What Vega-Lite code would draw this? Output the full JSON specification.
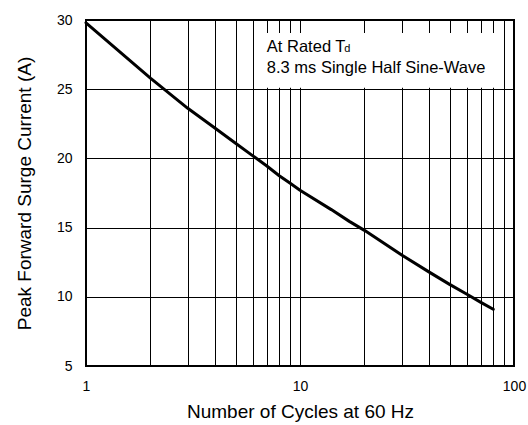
{
  "$schema": "https://vega.github.io/schema/vega-lite/v6.json",
  "width": 428,
  "height": 346,
  "autosize": {"type": "none"},
  "padding": {"left": 86, "top": 20, "right": 14, "bottom": 59},
  "background": "white",
  "config": {
    "font": "Liberation Sans",
    "view": {"stroke": "#000", "strokeWidth": 2},
    "axis": {
      "grid": true,
      "gridColor": "#000",
      "gridOpacity": 1,
      "gridWidth": 1,
      "ticks": false,
      "tickSize": 0,
      "domain": false,
      "labelColor": "#000",
      "titleColor": "#000",
      "labelFontSize": 14,
      "titleFontSize": 19,
      "titleFontWeight": "normal",
      "labelFont": "Liberation Sans",
      "titleFont": "Liberation Sans"
    }
  },
  "data": {
    "values": [
      {"cycles": 1, "current": 29.8},
      {"cycles": 2, "current": 25.8},
      {"cycles": 3, "current": 23.6},
      {"cycles": 4, "current": 22.2},
      {"cycles": 5, "current": 21.1},
      {"cycles": 6, "current": 20.2},
      {"cycles": 7, "current": 19.45},
      {"cycles": 8, "current": 18.75},
      {"cycles": 9, "current": 18.2},
      {"cycles": 10, "current": 17.7},
      {"cycles": 14, "current": 16.3},
      {"cycles": 17, "current": 15.45},
      {"cycles": 20, "current": 14.8},
      {"cycles": 30, "current": 13.0},
      {"cycles": 40, "current": 11.8},
      {"cycles": 50, "current": 10.9},
      {"cycles": 60, "current": 10.2},
      {"cycles": 70, "current": 9.6},
      {"cycles": 80, "current": 9.1}
    ]
  },
  "layer": [
    {
      "mark": {"type": "line", "color": "#000", "strokeWidth": 3, "strokeCap": "round", "strokeJoin": "round"},
      "encoding": {
        "x": {
          "field": "cycles",
          "type": "quantitative",
          "scale": {"type": "log", "domain": [1, 100], "nice": false},
          "axis": {
            "values": [1, 2, 3, 4, 5, 6, 7, 8, 9, 10, 20, 30, 40, 50, 60, 70, 80, 90, 100],
            "labelExpr": "datum.value == 1 || datum.value == 10 || datum.value == 100 ? format(datum.value, 'd') : ''",
            "labelOverlap": false,
            "labelFlush": false,
            "labelPadding": 13,
            "title": "Number of Cycles at 60 Hz",
            "titlePadding": 9
          }
        },
        "y": {
          "field": "current",
          "type": "quantitative",
          "scale": {"domain": [5, 30], "nice": false, "zero": false},
          "axis": {
            "values": [5, 10, 15, 20, 25, 30],
            "labelPadding": 14,
            "title": "Peak Forward Surge Current (A)",
            "titlePadding": 22
          }
        }
      }
    },
    {
      "data": {"values": [{}]},
      "mark": {"type": "rect", "fill": "white", "stroke": null},
      "encoding": {
        "x": {"datum": 6.64, "type": "quantitative"},
        "x2": {"datum": 86},
        "y": {"datum": 29.06, "type": "quantitative"},
        "y2": {"datum": 25.1}
      }
    },
    {
      "data": {"values": [{}]},
      "mark": {"type": "text", "align": "left", "baseline": "alphabetic", "fontSize": 16.5, "font": "Liberation Sans", "color": "#000"},
      "encoding": {
        "x": {"datum": 7, "type": "quantitative"},
        "y": {"datum": 27.71, "type": "quantitative"},
        "text": {"value": "At Rated T"}
      }
    },
    {
      "data": {"values": [{}]},
      "mark": {"type": "text", "align": "left", "baseline": "alphabetic", "fontSize": 11, "font": "Liberation Sans", "color": "#000"},
      "encoding": {
        "x": {"datum": 16.1, "type": "quantitative"},
        "y": {"datum": 27.71, "type": "quantitative"},
        "text": {"value": "d"}
      }
    },
    {
      "data": {"values": [{}]},
      "mark": {"type": "text", "align": "left", "baseline": "alphabetic", "fontSize": 16.5, "font": "Liberation Sans", "color": "#000"},
      "encoding": {
        "x": {"datum": 7, "type": "quantitative"},
        "y": {"datum": 26.15, "type": "quantitative"},
        "text": {"value": "8.3 ms Single Half Sine-Wave"}
      }
    }
  ]
}
